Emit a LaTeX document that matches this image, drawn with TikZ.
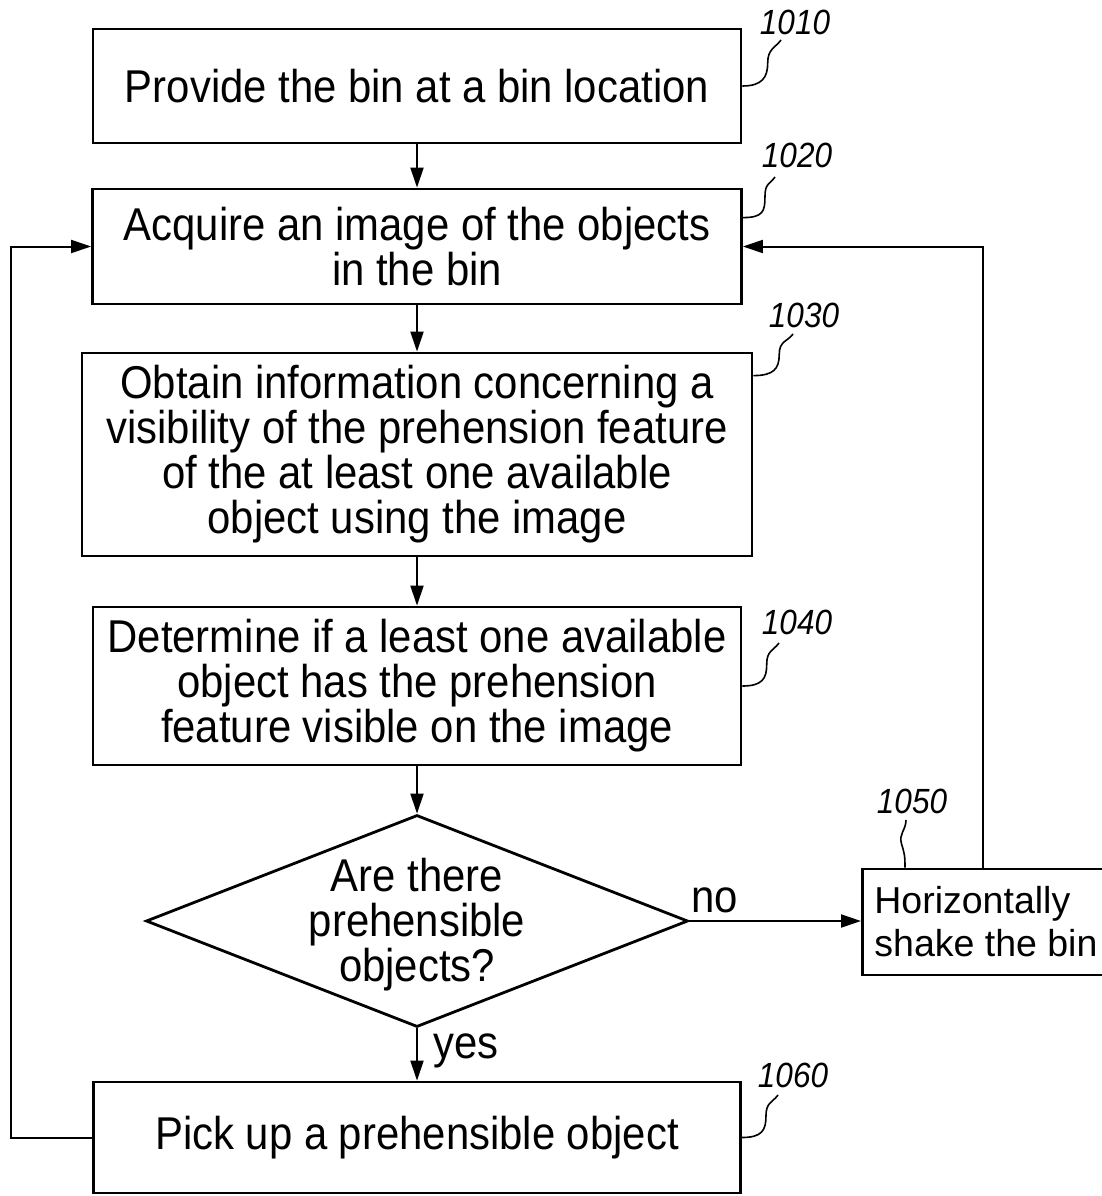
\documentclass[tikz,border=0pt]{standalone}
\usepackage{fontspec}
\setmainfont{Liberation Sans}[FakeStretch=0.91]
\newfontfamily\widefont{Liberation Sans}
\newfontfamily\labfont{Liberation Sans}[FakeStretch=0.9]
\usetikzlibrary{arrows.meta,shapes.geometric,calc}
\begin{document}
\begin{tikzpicture}[x=1pt,y=-1pt,
  box/.style={draw, line width=2.8pt, inner sep=0pt, align=center, font=\fontsize{46}{45}\selectfont},
  dia/.style={draw, diamond, line width=2.8pt, inner sep=0pt, minimum width=542pt, minimum height=212pt},
  arr/.style={line width=2pt, -{Triangle[length=20pt,width=13pt]}},
  lead/.style={line width=1.6pt},
  leadr/.style={to path={.. controls +(20,0) and +(0,14) .. ($(\tikztostart)!0.5!(\tikztotarget)+(6,0)$) .. controls +(0,-14) and +(-6,8) .. (\tikztotarget)}},
  reflab/.style={font=\labfont\itshape\fontsize{35}{35}\selectfont, inner sep=0pt},
  main/.style={font=\fontsize{46}{45}\selectfont, inner sep=0pt, align=center},
]
\useasboundingbox (0,0) rectangle (1102,1196);

% boxes
\node[box, minimum width=648pt, minimum height=114pt] (b1010) at (417,86) {Provide the bin at a bin location};
\node[box, minimum width=649pt, minimum height=115pt] (b1020) at (417,246.5) {Acquire an image of the objects\\in the bin};
\node[box, minimum width=670pt, minimum height=203pt] (b1030) at (417,454.5) {Obtain information concerning a\\visibility of the prehension feature\\of the at least one available\\object using the image};
\node[box, minimum width=648pt, minimum height=158pt] (b1040) at (417,686) {Determine if a least one available\\object has the prehension\\feature visible on the image};
\node[dia, label={[main, yshift=-4pt]center:Are there\\prehensible\\objects?}] (dm) at (417,921) {};
\node[box, anchor=west, minimum height=106pt, inner xsep=12pt, align=left, font=\widefont\fontsize{37.5}{43}\selectfont] (b1050) at (861,922) {Horizontally\\shake the bin};
\node[box, minimum width=647pt, minimum height=111pt] (b1060) at (417,1137.5) {Pick up a prehensible object};

% connectors
\draw[arr] (b1010) -- (b1020);
\draw[arr] (b1020) -- (b1030);
\draw[arr] (b1030) -- (b1040);
\draw[arr] (b1040) -- (dm);
\draw[arr] (dm) -- (b1060);
\draw[arr] (dm.east) -- (dm.east -| b1050.west);
\coordinate (lx) at (11,0);
\coordinate (rx) at (983,0);
\draw[arr] (b1060.west) -- (b1060.west -| lx) |- (b1020.west);
\draw[arr] (b1050.north -| rx) |- (b1020.east);

\node[main, anchor=base west] (no) at ($(dm.east)+(2,-9)$) {no};
\node[main, anchor=base west] (yes) at ($(dm.south)+(16,30)$) {yes};

% reference numerals
\node[reflab] (r1010) at (795,22) {1010};
\node[reflab] (r1020) at (797,155) {1020};
\node[reflab] (r1030) at (804,315) {1030};
\node[reflab] (r1040) at (797,622) {1040};
\node[reflab] (r1050) at (912,801) {1050};
\node[reflab] (r1060) at (793,1075) {1060};

\coordinate (e1010) at (781,40);
\coordinate (s1020) at ($(b1020.north east)+(0,30)$);
\coordinate (e1020) at (775,177);
\coordinate (s1030) at ($(b1030.north east)+(0,24)$);
\coordinate (e1030) at (793,334);
\coordinate (e1040) at (779,643);
\coordinate (e1060) at (778,1095);
\coordinate (s1050) at ($(b1050.north west)+(44,0)$);
\coordinate (e1050) at (906,820);

\draw[lead] (b1010.east) to[leadr] (e1010);
\draw[lead] (s1020) to[leadr] (e1020);
\draw[lead] (s1030) to[leadr] (e1030);
\draw[lead] (b1040.east) to[leadr] (e1040);
\draw[lead] (b1060.east) to[leadr] (e1060);
\draw[lead] (s1050) .. controls +(0,-12) and +(3,10) .. ($(s1050)!0.5!(e1050)+(-4,0)$) .. controls +(-3,-10) and +(0,10) .. (e1050);
\end{tikzpicture}
\end{document}
